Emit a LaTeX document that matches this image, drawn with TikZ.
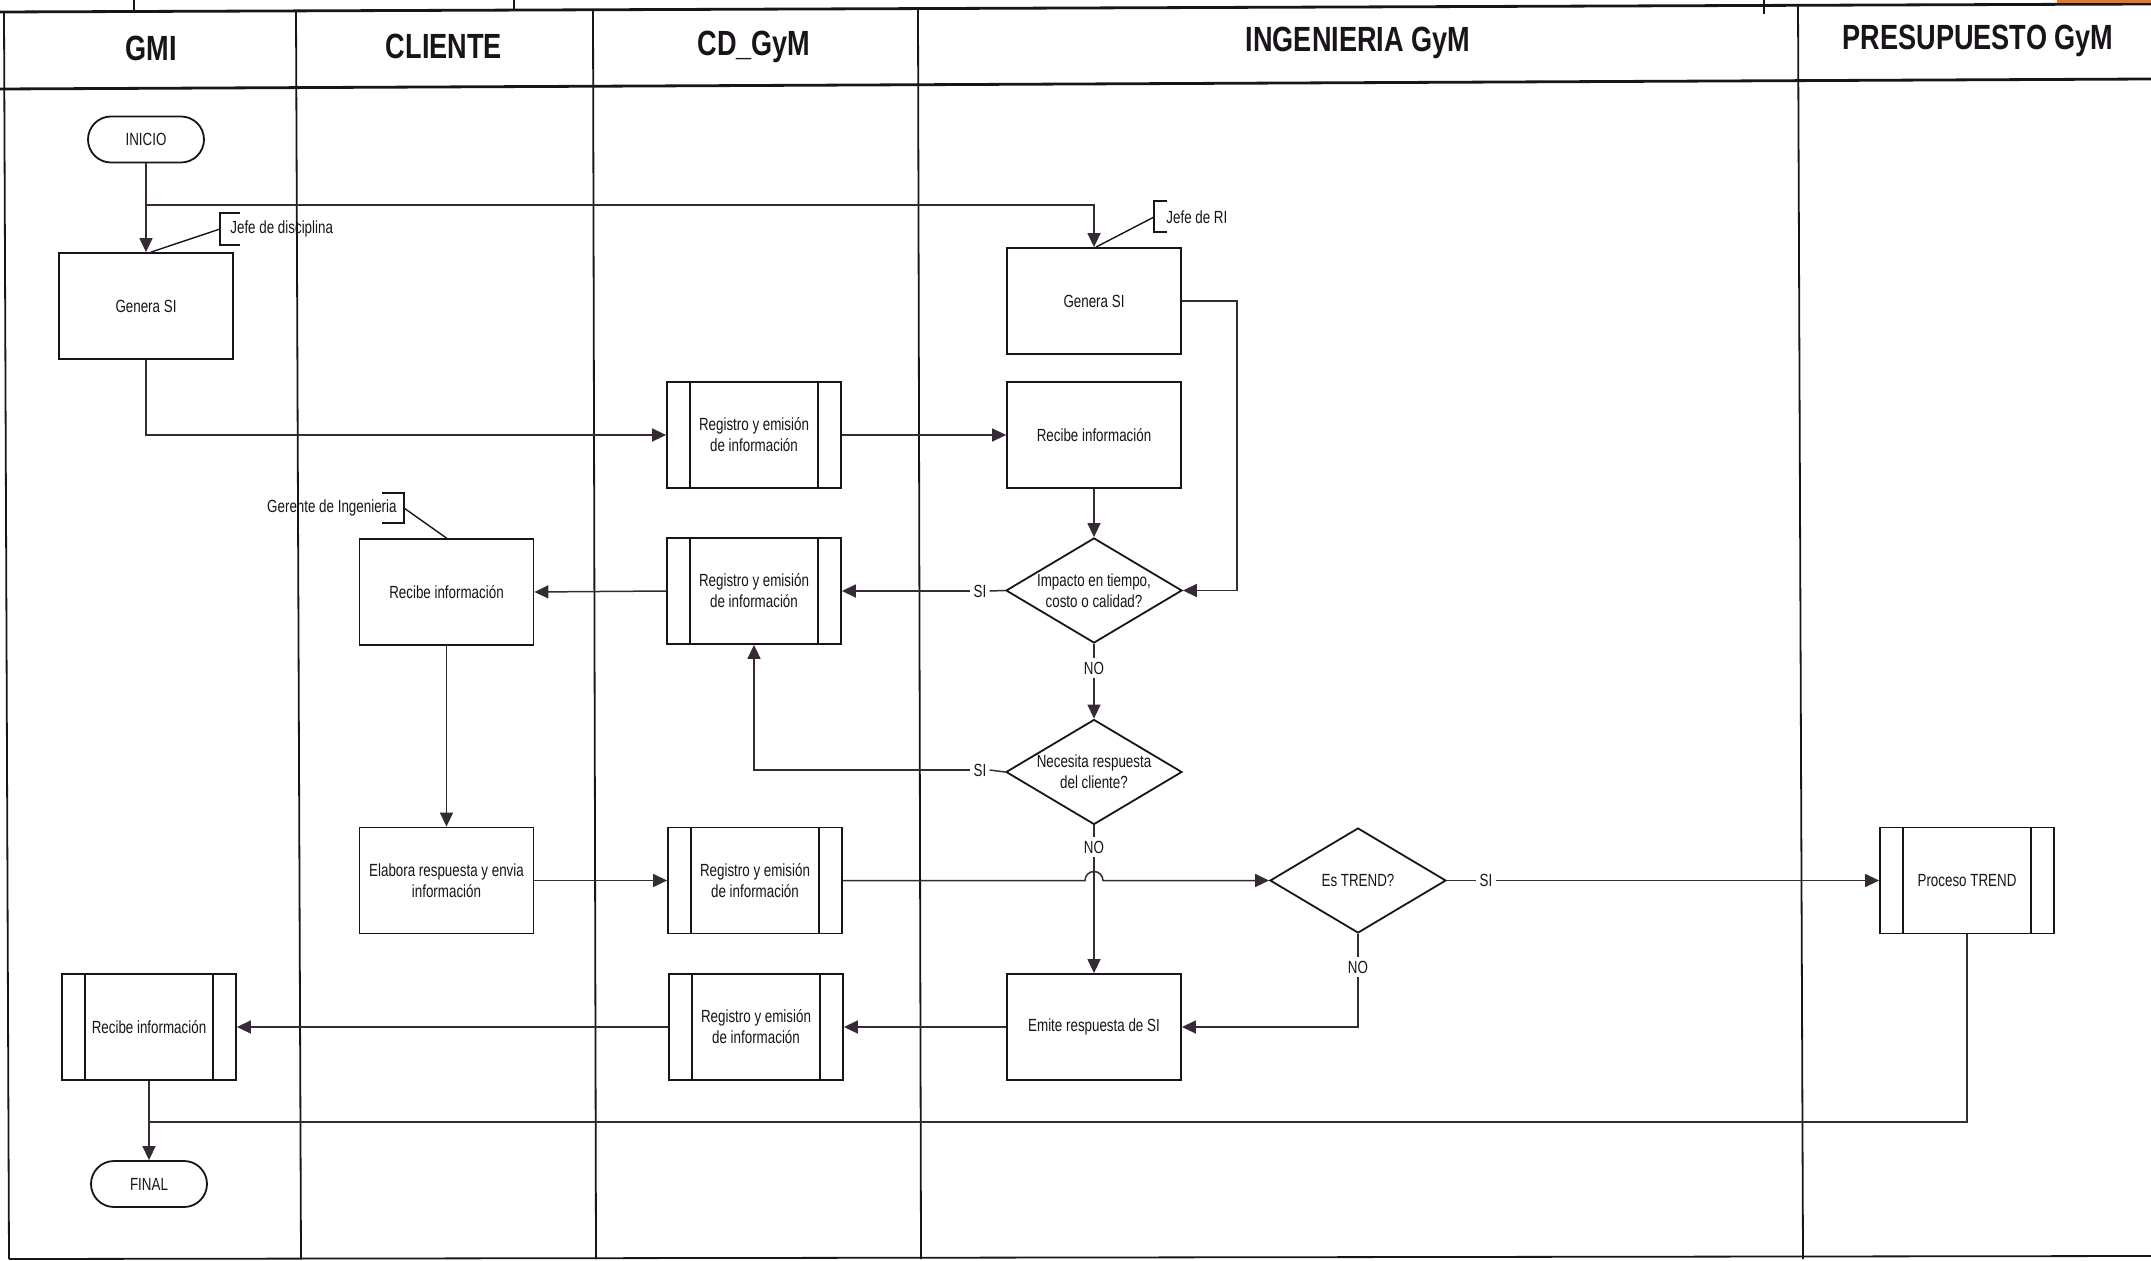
\documentclass[tikz,border=0pt]{standalone}
\usepackage{fontspec}
\setmainfont{Liberation Sans}[FakeStretch=0.76]
\newfontfamily\hdrfont{Liberation Sans}[FakeStretch=0.775]
\usetikzlibrary{arrows.meta,shapes.geometric,shapes.misc,calc}

\definecolor{ink}{RGB}{25,20,25}
\definecolor{wire}{RGB}{55,42,55}
\definecolor{scrap}{RGB}{226,120,40}

\begin{document}
\begin{tikzpicture}[x=0.5pt,y=-0.5pt,
  every node/.style={font=\fontsize{8.8}{10.5}\selectfont, inner sep=0pt, align=center, text=ink},
  hdr/.style={font=\hdrfont\bfseries\fontsize{17.5}{20}\selectfont, anchor=base},
  box/.style={draw=ink, line width=0.9pt, fill=white, minimum width=87pt, minimum height=53pt},
  subproc/.style={box, path picture={
      \draw[ink, line width=0.9pt] ([xshift=11.5pt]path picture bounding box.north west) -- ([xshift=11.5pt]path picture bounding box.south west);
      \draw[ink, line width=0.9pt] ([xshift=-11.5pt]path picture bounding box.north east) -- ([xshift=-11.5pt]path picture bounding box.south east);}},
  term/.style={draw=ink, line width=0.9pt, fill=white, rounded rectangle, minimum width=58pt, minimum height=23pt},
  decision/.style={draw=ink, line width=0.9pt, fill=white, diamond, minimum width=88pt, minimum height=52.5pt},
  lbl/.style={inner sep=1.5pt},
  conn/.style={draw=wire, line width=0.75pt},
  arr/.style={conn, -{Triangle[length=7pt,width=6.5pt]}},
  note/.style={draw=ink, line width=0.7pt},
  lane/.style={draw=ink, line width=0.9pt},
  rule/.style={draw=ink, line width=1.4pt}]

\useasboundingbox (0,0) rectangle (2151,1261);

% ---------- swimlane frame ----------
\draw[rule] (0,12) -- (2151,4);
\draw[rule] (0,89) -- (2151,79);
\draw[lane] (4,12) -- (9,1259);
\draw[lane] (296,11) -- (301,1259);
\draw[lane] (593,10) -- (596,1259);
\draw[lane] (918,9) -- (921,1259);
\draw[lane] (1798,6) -- (1803,1259);
\draw[lane] (9,1259) -- (2151,1256);
% edges of the sheet above
\draw[lane] (134,0) -- (134,12);
\draw[lane] (514,0) -- (514,11);
\draw[lane] (1764,0) -- (1764,14);
\fill[scrap] (2057,0) rectangle (2151,3);

% ---------- lane titles ----------
\node[hdr] (hGMI) at (151,61) {GMI};
\node[hdr] (hCLI) at (444,59) {CLIENTE};
\node[hdr] (hCD)  at (754,56) {CD\_GyM};
\node[hdr] (hING) at (1358,52) {INGENIERIA GyM};
\node[hdr] (hPRE) at (1978,50) {PRESUPUESTO GyM};

% ---------- GMI ----------
\node[term] (inicio) at (146,139.5) {INICIO};
\node[box] (gsi1) at (146,306) {Genera SI};
\node[subproc] (rec1) at (149,1027) {Recibe información};
\node[term] (final) at (149,1184) {FINAL};

% ---------- CLIENTE ----------
\node[box] (rec3) at (446.5,592) {Recibe información};
\node[box] (elab) at (446.5,880.5) {Elabora respuesta y envia\\información};

% ---------- CD_GyM ----------
\node[subproc] (r1) at (754,435) {Registro y emisión\\de información};
\node[subproc] (r2) at (754,591) {Registro y emisión\\de información};
\node[subproc] (r3) at (755,880.5) {Registro y emisión\\de información};
\node[subproc] (r4) at (756,1027) {Registro y emisión\\de información};

% ---------- INGENIERIA GyM ----------
\node[box] (gsi2) at (1094,301) {Genera SI};
\node[box] (rec2) at (1094,435) {Recibe información};
\node[decision, label={center:Impacto en tiempo,\\costo o calidad?}] (imp) at (1094,590.5) {};
\node[decision, label={center:Necesita respuesta\\del cliente?}] (nec) at (1094,772) {};
\node[decision, label={center:Es TREND?}] (trend) at (1358,880.5) {};
\node[box] (emite) at (1094,1027) {Emite respuesta de SI};

% ---------- PRESUPUESTO GyM ----------
\node[subproc] (pt) at (1967,880.5) {Proceso TREND};

% ---------- branch labels ----------
\node[lbl] (si1) at (980,591) {SI};
\node[lbl] (no1) at (1094,668) {NO};
\node[lbl] (si2) at (980,770) {SI};
\node[lbl] (no2) at (1094,847) {NO};
\node[lbl] (si3) at (1486,880.5) {SI};
\node[lbl] (no3) at (1358,967) {NO};

% ---------- responsible notes ----------
\node[anchor=west] (aJD) at (230,229) {Jefe de disciplina};
\draw[note] (240,213) -- (220,213) -- (220,245) -- (240,245);
\coordinate (bJD) at (220,229);
\draw[note] (bJD) -- ([xshift=2.5pt]gsi1.north);

\node[anchor=west] (aRI) at (1166,217) {Jefe de RI};
\draw[note] (1167,201) -- (1154,201) -- (1154,232) -- (1167,232);
\coordinate (bRI) at (1154,217);
\draw[note] (bRI) -- ([xshift=1pt]gsi2.north);

\node[anchor=east] (aGI) at (397,508) {Gerente de Ingenieria};
\draw[note] (382,493) -- (404,493) -- (404,523) -- (382,523);
\coordinate (bGI) at (404,508);
\draw[note] (bGI) -- (rec3.north);

% ---------- flow ----------
\coordinate (br1) at (146,205);
\draw[arr] (inicio.south) -- (gsi1.north);
\draw[arr] (br1) -| (gsi2.north);
\draw[arr] (gsi1.south) |- (r1.west);
\draw[arr] (r1.east) -- (rec2.west);
\draw[arr] (rec2.south) -- (imp.north);
\coordinate (c1) at (1237,301);
\draw[arr] (gsi2.east) -- (c1) |- (imp.east);

\draw[conn] (imp.west) -- (si1.east);
\draw[arr] (si1.west) -- (r2.east);
\draw[arr] (r2.west) -- (rec3.east);
\draw[arr] (rec3.south) -- (elab.north);
\draw[arr] (elab.east) -- (r3.west);

\draw[conn] (imp.south) -- (no1.north);
\draw[arr] (no1.south) -- (nec.north);
\draw[conn] (nec.west) -- (si2.east);
\draw[arr] (si2.west) -| (r2.south);
\draw[conn] (nec.south) -- (no2.north);
\draw[arr] (no2.south) -- (emite.north);

\draw[arr] (r3.east) -- ([xshift=-4.5pt]r3.east -| nec.south)
  arc[start angle=180, end angle=0, radius=4.5pt] -- (trend.west);
\draw[conn] (trend.east) -- (si3.west);
\draw[arr] (si3.east) -- (pt.west);
\draw[conn] (trend.south) -- (no3.north);
\draw[arr] (no3.south) |- (emite.east);

\draw[arr] (emite.west) -- (r4.east);
\draw[arr] (r4.west) -- (rec1.east);
\draw[arr] (rec1.south) -- (final.north);
\coordinate (j2) at (149,1122);
\draw[conn] (pt.south) |- (j2);
\end{tikzpicture}
\end{document}
